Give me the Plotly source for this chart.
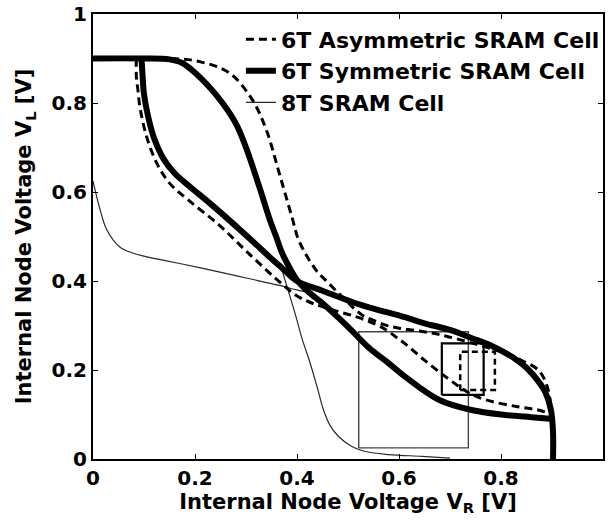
import plotly.graph_objects as go

# ---- data (x = V_R, y = V_L) ----
# 6T symmetric cell (thick solid)
sym1_vr = [0.0, 0.10, 0.150, 0.175, 0.200, 0.225, 0.254, 0.281, 0.300, 0.326, 0.346, 0.359, 0.370, 0.382,
           0.400, 0.425, 0.450, 0.500, 0.541, 0.580, 0.613, 0.678, 0.742, 0.808, 0.860, 0.902]
sym1_vl = [0.90, 0.90, 0.898, 0.890, 0.868, 0.840, 0.800, 0.752, 0.700, 0.612, 0.540, 0.500, 0.465, 0.437,
           0.402, 0.373, 0.350, 0.297, 0.250, 0.215, 0.184, 0.133, 0.110, 0.099, 0.094, 0.090]
sym2_vr = [0.902, 0.902, 0.898, 0.887, 0.873, 0.850, 0.828, 0.780, 0.742, 0.700, 0.650, 0.613, 0.550,
           0.515, 0.450, 0.400, 0.370, 0.350, 0.300, 0.234, 0.190, 0.160, 0.138, 0.120, 0.108, 0.100, 0.097, 0.095]
sym2_vl = [0.000, 0.060, 0.110, 0.150, 0.175, 0.205, 0.225, 0.255, 0.272, 0.290, 0.305, 0.318, 0.338,
           0.350, 0.378, 0.400, 0.430, 0.450, 0.503, 0.570, 0.612, 0.642, 0.675, 0.720, 0.770, 0.820, 0.865, 0.900]

# 6T asymmetric cell (dashed)
asym1_vr = [0.0, 0.15, 0.209, 0.268, 0.3125, 0.340, 0.365, 0.390, 0.404, 0.437, 0.456, 0.482, 0.500,
            0.515, 0.530, 0.547, 0.574, 0.600, 0.632, 0.664, 0.693, 0.769, 0.810, 0.840, 0.873, 0.890, 0.900]
asym1_vl = [0.90, 0.90, 0.893, 0.867, 0.807, 0.739, 0.643, 0.544, 0.490, 0.425, 0.402, 0.372, 0.352,
            0.335, 0.322, 0.313, 0.301, 0.294, 0.289, 0.283, 0.276, 0.252, 0.238, 0.222, 0.200, 0.165, 0.100]
asym2_vr = [0.085, 0.085, 0.088, 0.092, 0.105, 0.125, 0.150, 0.189, 0.248, 0.307, 0.359, 0.398, 0.430,
            0.470, 0.515, 0.550, 0.575, 0.593, 0.613, 0.650, 0.697, 0.735, 0.770, 0.830, 0.873, 0.900]
asym2_vl = [0.900, 0.860, 0.830, 0.791, 0.725, 0.665, 0.620, 0.580, 0.525, 0.460, 0.405, 0.368, 0.350,
            0.335, 0.320, 0.305, 0.290, 0.275, 0.258, 0.222, 0.180, 0.150, 0.133, 0.118, 0.110, 0.100]

# 8T cell (thin solid)
t8a_vr = [0.0, 0.004, 0.014, 0.027, 0.053, 0.092, 0.137, 0.209, 0.260, 0.307, 0.365, 0.400, 0.430]
t8a_vl = [0.625, 0.605, 0.560, 0.515, 0.476, 0.458, 0.447, 0.430, 0.417, 0.405, 0.390, 0.380, 0.372]
t8b_vr = [0.700, 0.645, 0.580, 0.530, 0.505, 0.482, 0.465, 0.452, 0.440, 0.424, 0.410, 0.398, 0.385, 0.372, 0.368]
t8b_vl = [0.002, 0.006, 0.010, 0.018, 0.030, 0.050, 0.075, 0.110, 0.160, 0.222, 0.270, 0.320, 0.370, 0.420, 0.440]

# noise-margin squares [x0, x1], [y0, y1]
sym_box_x, sym_box_y = [0.684, 0.766], [0.144, 0.260]
asym_box_x, asym_box_y = [0.720, 0.788], [0.155, 0.241]
t8_box_x, t8_box_y = [0.521, 0.736], [0.025, 0.286]

legend_names = ["6T Asymmetric SRAM Cell", "6T Symmetric SRAM Cell", "8T SRAM Cell"]

x_ticks = [0, 0.2, 0.4, 0.6, 0.8, 1]
x_ticktext = ["0", "0.2", "0.4", "0.6", "0.8", "1"]
y_ticks = [0, 0.2, 0.4, 0.6, 0.8, 1]
y_ticktext = ["0", "0.2", "0.4", "0.6", "0.8", "1"]

FONT = "DejaVu Sans"
SMOOTH = 1.0


def box(xr, yr):
    return [xr[0], xr[1], xr[1], xr[0], xr[0]], [yr[0], yr[0], yr[1], yr[1], yr[0]]


fig = go.Figure()

thin = dict(color="#2a2a2a", width=1.2)
dashed = dict(color="black", width=3, dash="8px,5px")
thick = dict(color="black", width=6)

# 8T
fig.add_trace(go.Scatter(x=t8a_vr, y=t8a_vl, mode="lines", line=dict(**thin, shape="spline", smoothing=SMOOTH),
                         name=legend_names[2], legendrank=3))
fig.add_trace(go.Scatter(x=t8b_vr, y=t8b_vl, mode="lines", line=dict(**thin, shape="spline", smoothing=SMOOTH),
                         showlegend=False))
bx, by = box(t8_box_x, t8_box_y)
fig.add_trace(go.Scatter(x=bx, y=by, mode="lines", line=dict(color="#444444", width=1.4), showlegend=False))

# asymmetric
fig.add_trace(go.Scatter(x=asym1_vr, y=asym1_vl, mode="lines",
                         line=dict(**dashed, shape="spline", smoothing=SMOOTH),
                         name=legend_names[0], legendrank=1))
fig.add_trace(go.Scatter(x=asym2_vr, y=asym2_vl, mode="lines",
                         line=dict(**dashed, shape="spline", smoothing=SMOOTH), showlegend=False))
bx, by = box(asym_box_x, asym_box_y)
fig.add_trace(go.Scatter(x=bx, y=by, mode="lines", line=dict(color="black", width=2.5, dash="6px,4px"),
                         showlegend=False))

# symmetric
fig.add_trace(go.Scatter(x=sym1_vr, y=sym1_vl, mode="lines",
                         line=dict(**thick, shape="spline", smoothing=SMOOTH),
                         name=legend_names[1], legendrank=2))
fig.add_trace(go.Scatter(x=sym2_vr, y=sym2_vl, mode="lines",
                         line=dict(**thick, shape="spline", smoothing=SMOOTH), showlegend=False))
bx, by = box(sym_box_x, sym_box_y)
fig.add_trace(go.Scatter(x=bx, y=by, mode="lines", line=dict(color="black", width=2.2), showlegend=False))

axis_common = dict(
    showgrid=False, zeroline=False, showline=True, linecolor="black", linewidth=2,
    mirror="ticks", ticks="inside", ticklen=5, tickwidth=1.2, tickcolor="black",
    tickfont=dict(family=FONT, size=20, color="black", weight="bold"),
)

fig.update_layout(
    width=608, height=523,
    margin=dict(l=93, r=3, t=14, b=64),
    paper_bgcolor="white", plot_bgcolor="white",
    showlegend=True,
    legend=dict(
        x=0.29, xanchor="left", y=0.99, yanchor="top",
        bgcolor="rgba(255,255,255,0)", borderwidth=0,
        font=dict(family=FONT, size=22, color="black", weight="bold"),
        itemwidth=30, tracegroupgap=0,
    ),
    xaxis=dict(range=[0, 1], tickvals=x_ticks, ticktext=x_ticktext,
               title=dict(text="Internal Node Voltage V<sub>R</sub> [V]", standoff=0,
                          font=dict(family=FONT, size=21, color="black", weight="bold")),
               **axis_common),
    yaxis=dict(range=[0, 1], tickvals=y_ticks, ticktext=y_ticktext,
               title=dict(text="Internal Node Voltage V<sub>L</sub> [V]", standoff=14,
                          font=dict(family=FONT, size=21, color="black", weight="bold")),
               **axis_common),
)

fig.write_html("out.html")
